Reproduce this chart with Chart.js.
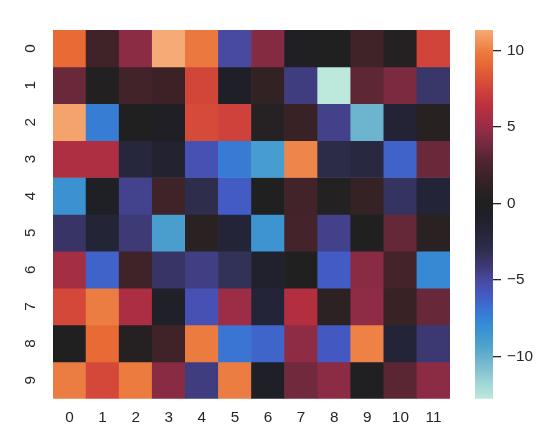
<!DOCTYPE html>
<html>
<head>
<meta charset="utf-8">
<script src="https://cdn.jsdelivr.net/npm/chart.js@4/dist/chart.umd.min.js"></script>
<style>
  html, body { margin: 0; padding: 0; background: #ffffff; }
  #wrap { position: relative; width: 547px; height: 434px; }
  #main { position: absolute; left: 0; top: 0; }
  #cbar { position: absolute; left: 460px; top: 0; }
</style>
</head>
<body>
<div id="wrap">
  <canvas id="main" width="460" height="434"></canvas>
  <canvas id="cbar" width="87" height="434"></canvas>
</div>
<script>
// ---- data ----
const colLabels = ['0','1','2','3','4','5','6','7','8','9','10','11'];
const rowLabels = ['0','1','2','3','4','5','6','7','8','9'];
const row0 = [9.2, 2.0, 4.6, 11.33, 9.8, -5.0, 4.4, -0.4, 0.0, 2.0, 0.6, 7.5];
const row1 = [3.6, 0.3, 2.1, 1.8, 7.6, -0.8, 1.3, -4.3, -12.74, 3.2, 4.1, -3.8];
const row2 = [11.1, -7.3, 0.1, -0.6, 7.8, 7.4, 0.7, 1.6, -4.5, -10.2, -1.6, 0.8];
const row3 = [5.9, 5.9, -2.0, -1.4, -5.5, -7.2, -8.9, 10.2, -2.8, -2.3, -6.3, 3.6];
const row4 = [-8.3, -0.7, -4.6, 1.9, -3.0, -6.0, -0.1, 2.1, 0.4, 1.4, -3.5, -1.8];
const row5 = [-3.7, -1.7, -4.1, -9.0, 0.9, -1.8, -8.4, 2.2, -4.5, 0.1, 3.4, 0.9];
const row6 = [5.5, -6.3, 2.0, -3.7, -4.4, -3.3, -1.2, 0.1, -6.0, 4.5, 2.2, -7.8];
const row7 = [7.7, 10.0, 5.8, -0.9, -5.5, 5.2, -1.8, 6.1, 1.0, 4.7, 1.6, 3.5];
const row8 = [0.0, 9.2, 0.6, 2.0, 9.9, -7.0, -6.4, 4.7, -5.9, 10.1, -1.8, -4.0];
const row9 = [10.0, 7.7, 9.9, 4.5, -4.3, 10.0, -0.8, 3.8, 4.6, -0.3, 3.1, 4.6];
const rows = [row0, row1, row2, row3, row4, row5, row6, row7, row8, row9];
const vmin = -12.74;
const vmax = 11.33;
const cbarTicks = [-10, -5, 0, 5, 10];

// icefire-like colormap stops (value, colour)
const cmapValues = [-12.74, -11.8, -10.7, -9.6, -8.5, -7.6, -6.8, -5.9, -5.0, -4.1, -3.0, -1.9, -0.8, 0, 0.7, 1.7, 2.8, 3.9, 5.0, 6.3, 7.1, 8.1, 9.2, 10.0, 10.5, 11.33];
const cmapColors = ['#bde8dc','#a2d8d6','#7ebfcf','#58a8cc','#3e96d0','#3585d5','#3b70d2','#4458c2','#4849a0','#3d3a76','#2e2d4b','#25253a','#1f1f27','#202020','#262122','#3a2226','#512530','#742a3e','#982c47','#b8303f','#c93c3c','#db5037','#e86a35','#ec7d42','#f09055','#f6aa76'];

function hexToRgb(h) {
  return [parseInt(h.slice(1,3),16), parseInt(h.slice(3,5),16), parseInt(h.slice(5,7),16)];
}
function cmap(v) {
  if (v <= cmapValues[0]) return cmapColors[0];
  const n = cmapValues.length;
  if (v >= cmapValues[n-1]) return cmapColors[n-1];
  for (let i = 0; i < n - 1; i++) {
    if (v >= cmapValues[i] && v <= cmapValues[i+1]) {
      const t = (v - cmapValues[i]) / (cmapValues[i+1] - cmapValues[i]);
      const a = hexToRgb(cmapColors[i]), b = hexToRgb(cmapColors[i+1]);
      const c = a.map((x, k) => Math.round(x + (b[k] - x) * t));
      return 'rgb(' + c.join(',') + ')';
    }
  }
  return cmapColors[n-1];
}

const FONT = { family: '"Liberation Sans", Arial, sans-serif', size: 15.3 };
const TEXT = '#262626';

// ---- heatmap ----
const datasets = rows.map((vals, r) => ({
  label: 'row ' + rowLabels[r],
  data: vals.map(() => [r, r + 1]),
  backgroundColor: vals.map(cmap),
  borderWidth: 0,
  barPercentage: 1,
  categoryPercentage: 1,
  grouped: false
}));

const yLabelPlugin = {
  id: 'yLabels',
  afterDraw(chart) {
    const ys = chart.scales.y;
    const ctx = chart.ctx;
    ctx.save();
    ctx.font = FONT.size + 'px ' + FONT.family;
    ctx.fillStyle = TEXT;
    ctx.textAlign = 'center';
    ctx.textBaseline = 'middle';
    rowLabels.forEach((lab, i) => {
      const y = ys.getPixelForValue(i + 0.5);
      ctx.save();
      ctx.translate(chart.chartArea.left - 22.5, y);
      ctx.rotate(-Math.PI / 2);
      ctx.fillText(lab, 0, 0);
      ctx.restore();
    });
    ctx.restore();
  }
};

new Chart(document.getElementById('main'), {
  type: 'bar',
  data: { labels: colLabels, datasets },
  options: {
    responsive: false,
    animation: false,
    layout: { padding: { left: 53, top: 30, right: 10, bottom: 0 } },
    plugins: { legend: { display: false }, tooltip: { enabled: false } },
    scales: {
      x: {
        type: 'category',
        offset: true,
        grid: { display: false, drawTicks: false },
        border: { display: false },
        ticks: { color: TEXT, font: FONT, padding: 10, maxRotation: 0, minRotation: 0 },
        afterFit(scale) { scale.height = 35.3; }
      },
      y: {
        type: 'linear',
        display: false,
        min: 0,
        max: rowLabels.length,
        reverse: true
      }
    }
  },
  plugins: [yLabelPlugin]
});

// ---- colorbar ----
function fmt(v) { return v < 0 ? '\u2212' + Math.abs(v) : String(v); }

new Chart(document.getElementById('cbar'), {
  type: 'bar',
  data: {
    labels: ['cbar'],
    datasets: [{
      data: [[vmin, vmax]],
      borderWidth: 0,
      barPercentage: 1,
      categoryPercentage: 1,
      backgroundColor(ctx) {
        const area = ctx.chart.chartArea;
        if (!area) return '#202020';
        const g = ctx.chart.ctx.createLinearGradient(0, area.bottom, 0, area.top);
        const N = 96;
        for (let i = 0; i <= N; i++) {
          const t = i / N;
          g.addColorStop(t, cmap(vmin + t * (vmax - vmin)));
        }
        return g;
      }
    }]
  },
  options: {
    responsive: false,
    animation: false,
    layout: { padding: { left: 15, top: 30, right: 0, bottom: 35.3 } },
    plugins: { legend: { display: false }, tooltip: { enabled: false } },
    scales: {
      x: { display: false },
      y: {
        type: 'linear',
        position: 'right',
        min: vmin,
        max: vmax,
        afterBuildTicks(scale) { scale.ticks = cbarTicks.map(v => ({ value: v })); },
        ticks: { color: TEXT, font: FONT, padding: 6, callback: (v) => fmt(v) },
        grid: { drawOnChartArea: false, drawTicks: true, tickLength: 8, color: TEXT, lineWidth: 1.3 },
        border: { display: false },
        afterFit(scale) { scale.width = 54; }
      }
    }
  }
});
</script>
</body>
</html>
